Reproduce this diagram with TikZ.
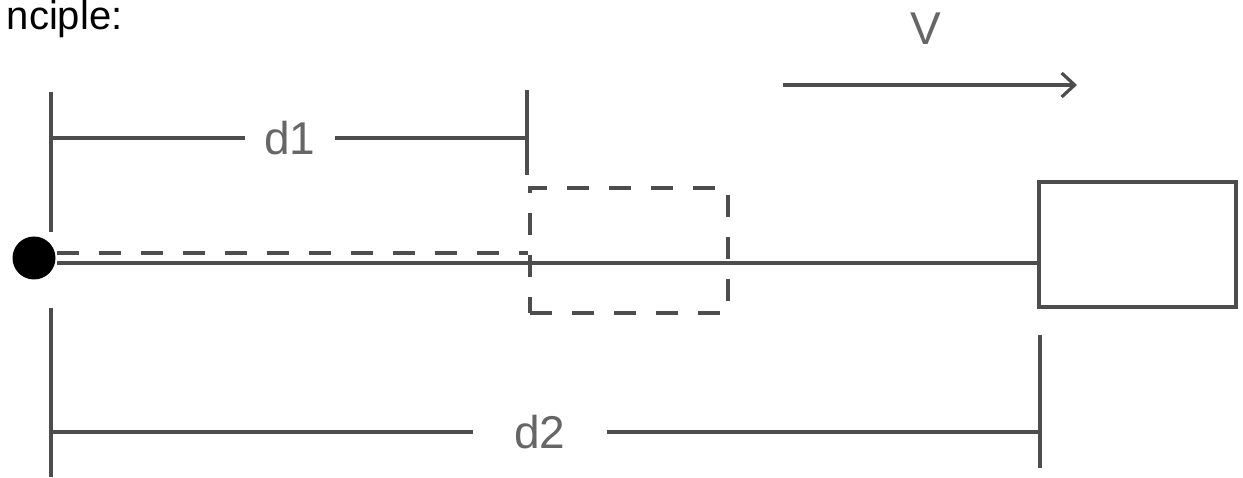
\documentclass[tikz,border=0pt]{standalone}
\usepackage{fontspec}
\setmainfont{Liberation Sans}
\usetikzlibrary{arrows.meta}
\definecolor{linegray}{HTML}{4D4D4D}
\definecolor{textgray}{HTML}{666666}

\begin{document}
\begin{tikzpicture}[x=1pt, y=-1pt, line width=3.2pt, draw=linegray,
  dimlabel/.style={text=textgray, inner sep=0pt, font=\fontsize{46}{50}\selectfont},
  ghostline/.style={dash pattern=on 22pt off 20pt}]
\useasboundingbox (0,0) rectangle (1243,478);
\node[anchor=base east, inner sep=0pt, font=\fontsize{40}{46}\selectfont] (title) at (124,30){nciple:};
\node[circle, fill=black, minimum size=43pt, inner sep=0pt] (dot) at (34,258){};
\node[draw=linegray, minimum width=197pt, minimum height=125pt, inner sep=0pt] (target) at (1137.5,244.5){};
\node[draw=linegray, ghostline, minimum width=198pt, minimum height=125pt, inner sep=0pt] (ghost) at (629,250.5){};
\draw[linegray] (dot.east |- 0,263) -- (target.west |- 0,263);
\draw[linegray, ghostline] (dot.east |- 0,253) -- (ghost.west |- 0,253);
% d1
\coordinate (d1top) at (51,92);
\coordinate (d1bot) at (51,232);
\coordinate (d1left) at (51,138);
\coordinate (d1right) at (527,138);
\node[dimlabel, minimum width=86pt] (d1) at (290,138){d1};
\draw[linegray] (d1top) -- (d1bot);
\draw[linegray] (527,90) -- (527,175);
\draw[linegray] (d1left) -- (d1.west);
\draw[linegray] (d1.east) -- (d1right);
% d2
\coordinate (d2left) at (51,432);
\coordinate (d2right) at (1040,432);
\node[dimlabel, minimum width=130pt] (d2) at (540,432){d2};
\draw[linegray] (51,308) -- (51,477);
\draw[linegray] (1040,335) -- (1040,468);
\draw[linegray] (d2left) -- (d2.west);
\draw[linegray] (d2.east) -- (d2right);
% velocity
\node[dimlabel] (v) at (926,29){V};
\coordinate (vstart) at (783,85);
\coordinate (vend) at (1077,85);
\draw[linegray, -{Straight Barb[length=13pt, width=24pt]}] (vstart) -- (vend);
\end{tikzpicture}
\end{document}
